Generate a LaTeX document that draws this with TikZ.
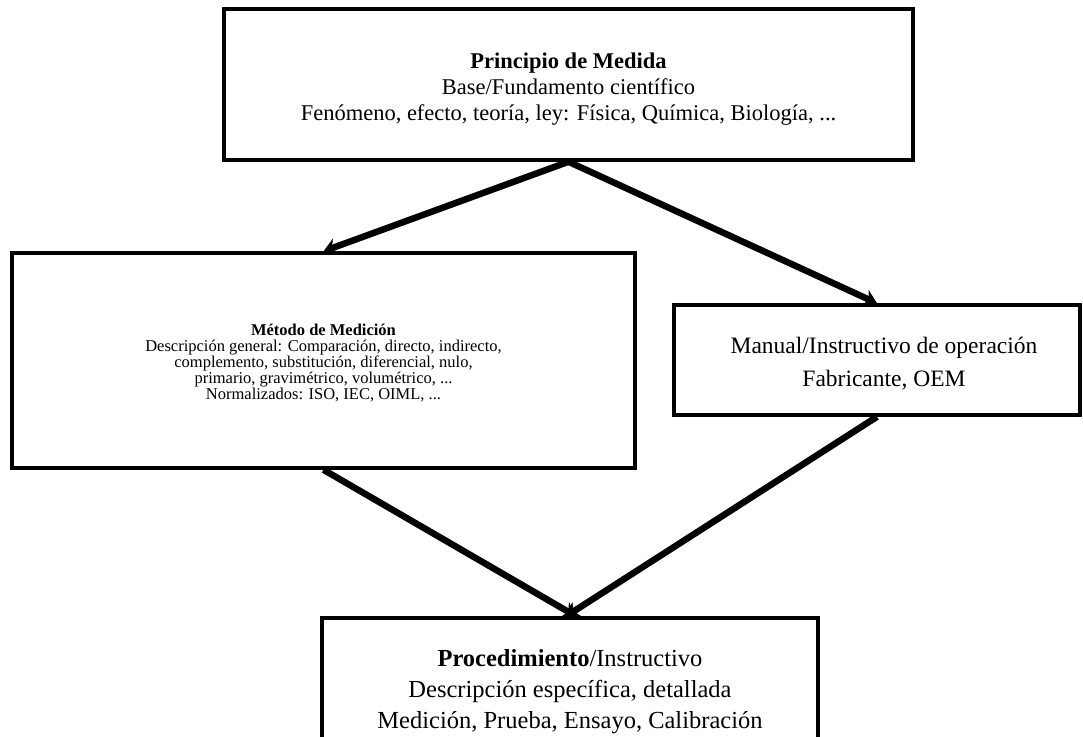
\documentclass[tikz,border=0pt]{standalone}
\usepackage{fontspec}
\setmainfont{Liberation Serif}
\usetikzlibrary{arrows.meta,calc}
\begin{document}
\begin{tikzpicture}[x=1pt,y=-1pt,
  box/.style={draw=black,line width=3.5pt,fill=white,inner sep=0pt},
  flow/.style={line width=6.5pt,-{Stealth[length=13pt,width=17pt,inset=4pt]}},
  txt/.style={align=center,inner sep=0pt}]
\useasboundingbox (0,0) rectangle (1083,736);
\clip (0,0) rectangle (1083,736);
% boxes
\node[box,minimum width=689pt,minimum height=151pt] (top) at (568.5,84.5) {};
\node[box,minimum width=623pt,minimum height=215pt] (met) at (323.5,360.5) {};
\node[box,minimum width=406pt,minimum height=110pt] (man) at (877,360) {};
\node[box,minimum width=496pt,minimum height=140pt] (proc) at (570,688) {};
% texts
\node[txt,font=\fontsize{22.5}{26}\selectfont] (toptxt) at (568.5,89) {\textbf{Principio de Medida}\\Base/Fundamento científico\\Fenómeno, efecto, teoría, ley: Física, Química, Biología, ...};
\node[txt,font=\fontsize{16.5}{16}\selectfont] (mettxt) at (323.5,363) {\textbf{Método de Medición}\\Descripción general: Comparación, directo, indirecto,\\complemento, substitución, diferencial, nulo,\\primario, gravimétrico, volumétrico, ...\\Normalizados: ISO, IEC, OIML, ...};
\node[txt,font=\fontsize{23.5}{33}\selectfont] (mantxt) at (884,364) {Manual/Instructivo de operación\\Fabricante, OEM};
\node[txt,font=\fontsize{24.5}{31}\selectfont] (proctxt) at (570,692) {\textbf{Procedimiento}/Instructivo\\Descripción específica, detallada\\Medición, Prueba, Ensayo, Calibración};
% connector ends
\coordinate (e3) at ($(proc.north)+(6,0)$);
\coordinate (e4) at ($(proc.north)+(-4,0)$);
\draw[flow] (top.south) -- (met.north);
\draw[flow] (top.south) -- (man.north);
\draw[flow] (met.south) -- (e3);
\draw[flow] (man.south) -- (e4);
\end{tikzpicture}
\end{document}
